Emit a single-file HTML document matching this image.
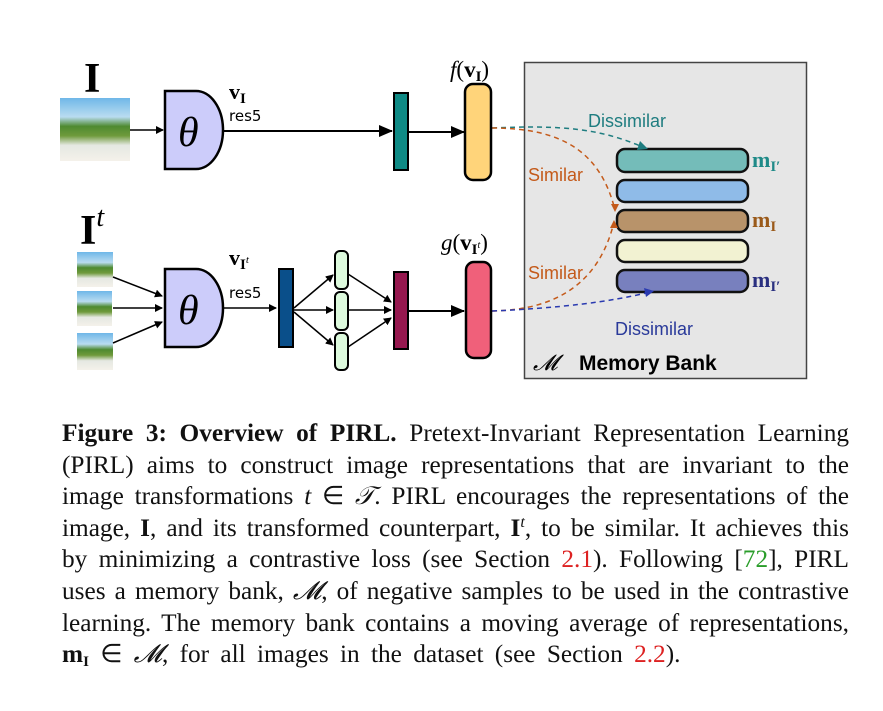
<!DOCTYPE html>
<html><head><meta charset="utf-8"><style>
html,body{margin:0;padding:0;background:#fff;width:883px;height:711px;overflow:hidden}
.cap{position:absolute;left:62px;top:418px;width:787px;font-family:"Liberation Serif",serif;font-size:25.3px;color:#111}
.cap div{height:31.6px;line-height:31.6px;text-align:justify;text-align-last:justify;white-space:nowrap;overflow:visible}
.cap div.l{text-align-last:left;word-spacing:5px}
.cap i{font-style:italic}
.cap sup{font-size:16px;line-height:0;vertical-align:9px}
.cap sub{font-size:15px;line-height:0;vertical-align:-4px}
.g{color:#2a9d2a}.r{color:#d22}
</style></head><body>
<svg width="883" height="411" style="position:absolute;left:0;top:0" font-family="Liberation Sans, sans-serif">
<defs>
<marker id="a" markerWidth="8" markerHeight="8" refX="7" refY="4" orient="auto" markerUnits="userSpaceOnUse"><path d="M0,0 L8,4 L0,8z" fill="#000"/></marker>
<marker id="ab" markerWidth="14" markerHeight="12" refX="13" refY="6" orient="auto" markerUnits="userSpaceOnUse"><path d="M0,0 L14,6 L0,12z" fill="#000"/></marker>
<linearGradient id="img" x1="0" y1="0" x2="0" y2="1"><stop offset="0" stop-color="#6fb7e8"/><stop offset=".3" stop-color="#b9dcf0"/><stop offset=".45" stop-color="#4e8a30"/><stop offset=".6" stop-color="#6f9a3c"/><stop offset=".75" stop-color="#e5e8e2"/><stop offset="1" stop-color="#f4f1ea"/></linearGradient>
</defs>
<rect x="524.5" y="62.5" width="282" height="316" fill="#e6e6e6" stroke="#444" stroke-width="1.5"/>
<text x="588" y="127" fill="#1f7d80" font-size="18">Dissimilar</text>
<text x="528" y="181" fill="#c45a1a" font-size="18">Similar</text>
<text x="528" y="279" fill="#c45a1a" font-size="18">Similar</text>
<text x="615" y="335" fill="#2a3a9a" font-size="18">Dissimilar</text>
<text x="533" y="370" font-size="22" font-family="Liberation Serif, serif" font-style="italic">𝓜</text>
<text x="579" y="370" font-size="21" font-weight="bold">Memory Bank</text>
<rect x="617" y="149" width="131" height="23" rx="8" fill="#74bcb9" stroke="#111" stroke-width="2.5"/>
<rect x="617" y="180" width="131" height="22" rx="8" fill="#8fbbe8" stroke="#111" stroke-width="2.5"/>
<rect x="617" y="210" width="131" height="22" rx="8" fill="#b8936a" stroke="#111" stroke-width="2.5"/>
<rect x="617" y="240" width="131" height="22" rx="8" fill="#f2f2d2" stroke="#111" stroke-width="2.5"/>
<rect x="617" y="270" width="131" height="22" rx="8" fill="#7880be" stroke="#111" stroke-width="2.5"/>
<g font-family="Liberation Serif, serif" font-weight="bold" font-size="22">
<text x="752" y="167" fill="#1f8a88">m<tspan font-size="15" dy="4">I′</tspan></text>
<text x="752" y="227" fill="#9a5a1a">m<tspan font-size="15" dy="4">I</tspan></text>
<text x="752" y="287" fill="#2a3080">m<tspan font-size="15" dy="4">I′</tspan></text>
</g>
<path d="M492,128 C560,125 600,128 645,148" fill="none" stroke="#1f7d80" stroke-width="1.5" stroke-dasharray="5,4"/>
<path d="M640,141 l8,8 l-11,1z" fill="#1f7d80"/>
<path d="M492,128 C560,128 600,150 615,210" fill="none" stroke="#c45a1a" stroke-width="1.5" stroke-dasharray="5,4"/>
<path d="M611,204 l4,8 l4,-8z" fill="#c45a1a"/>
<path d="M492,311 C560,310 600,280 614,222" fill="none" stroke="#c45a1a" stroke-width="1.5" stroke-dasharray="5,4"/>
<path d="M610,228 l4,-8 l4,8z" fill="#c45a1a"/>
<path d="M492,311 C560,308 610,302 650,292" fill="none" stroke="#2a3ab0" stroke-width="1.5" stroke-dasharray="5,4"/>
<path d="M644,288 l10,3 l-8,6z" fill="#2a3ab0"/>
<text x="84" y="92" font-family="Liberation Serif, serif" font-weight="bold" font-size="42">I</text>
<rect x="60" y="98" width="70" height="63" fill="url(#img)"/>
<line x1="130" y1="130" x2="163" y2="130" stroke="#000" stroke-width="1.5" marker-end="url(#a)"/>
<path d="M165,91 H196 A27,39 0 0 1 196,169 H165Z" fill="#ccccfa" stroke="#000" stroke-width="2.5"/>
<text x="178" y="146" font-family="Liberation Serif, serif" font-style="italic" font-size="42">θ</text>
<text x="229" y="99" font-family="Liberation Serif, serif" font-weight="bold" font-size="22">v<tspan font-size="15" dy="4">I</tspan></text>
<text x="229" y="121" font-family="DejaVu Sans, sans-serif" font-size="15">res5</text>
<line x1="223" y1="131" x2="392" y2="131" stroke="#000" stroke-width="2" marker-end="url(#ab)"/>
<rect x="394" y="93" width="14" height="77" fill="#0f8a85" stroke="#000" stroke-width="2"/>
<line x1="408" y1="132" x2="464" y2="132" stroke="#000" stroke-width="2" marker-end="url(#ab)"/>
<rect x="465" y="84" width="26" height="96" rx="8" fill="#ffd47a" stroke="#000" stroke-width="2.5"/>
<text x="450" y="77" font-family="Liberation Serif, serif" font-size="23"><tspan font-style="italic">f</tspan>(<tspan font-weight="bold">v</tspan><tspan font-weight="bold" font-size="15" dy="4">I</tspan><tspan dy="-4">)</tspan></text>
<text x="80" y="244" font-family="Liberation Serif, serif" font-weight="bold" font-size="42">I<tspan font-weight="normal" font-style="italic" font-size="28" dy="-18">t</tspan></text>
<rect x="77" y="252" width="36" height="35" fill="url(#img)"/>
<rect x="77" y="291" width="35" height="35" fill="url(#img)"/>
<rect x="77" y="333" width="36" height="37" fill="url(#img)"/>
<line x1="113" y1="277" x2="162" y2="296" stroke="#000" stroke-width="1.5" marker-end="url(#a)"/>
<line x1="113" y1="308" x2="162" y2="308" stroke="#000" stroke-width="1.5" marker-end="url(#a)"/>
<line x1="113" y1="343" x2="162" y2="322" stroke="#000" stroke-width="1.5" marker-end="url(#a)"/>
<path d="M165,269 H196 A27,39 0 0 1 196,347 H165Z" fill="#ccccfa" stroke="#000" stroke-width="2.5"/>
<text x="178" y="324" font-family="Liberation Serif, serif" font-style="italic" font-size="42">θ</text>
<text x="229" y="265" font-family="Liberation Serif, serif" font-weight="bold" font-size="22">v<tspan font-size="15" dy="4">I</tspan><tspan font-size="11" font-weight="normal" font-style="italic" dy="-6">t</tspan></text>
<text x="229" y="298" font-family="DejaVu Sans, sans-serif" font-size="15">res5</text>
<line x1="223" y1="308" x2="276" y2="308" stroke="#000" stroke-width="1.5" marker-end="url(#a)"/>
<rect x="279" y="269" width="14" height="78" fill="#0a4f8a" stroke="#000" stroke-width="2"/>
<g stroke="#000" stroke-width="1.5" marker-end="url(#a)">
<line x1="294" y1="308" x2="333" y2="275"/><line x1="294" y1="310" x2="333" y2="310"/><line x1="294" y1="312" x2="333" y2="345"/>
<line x1="348" y1="274" x2="391" y2="302"/><line x1="348" y1="310" x2="391" y2="310"/><line x1="348" y1="347" x2="391" y2="318"/>
</g>
<rect x="335" y="251" width="13" height="38" rx="5" fill="#ddfadd" stroke="#000" stroke-width="2"/>
<rect x="335" y="292" width="13" height="38" rx="5" fill="#ddfadd" stroke="#000" stroke-width="2"/>
<rect x="335" y="333" width="13" height="37" rx="5" fill="#ddfadd" stroke="#000" stroke-width="2"/>
<rect x="394" y="272" width="14" height="77" fill="#96184f" stroke="#000" stroke-width="2"/>
<line x1="408" y1="311" x2="464" y2="311" stroke="#000" stroke-width="2" marker-end="url(#ab)"/>
<rect x="466" y="262" width="25" height="96" rx="8" fill="#f0607a" stroke="#000" stroke-width="2.5"/>
<text x="441" y="250" font-family="Liberation Serif, serif" font-size="23"><tspan font-style="italic">g</tspan>(<tspan font-weight="bold">v</tspan><tspan font-weight="bold" font-size="15" dy="4">I</tspan><tspan font-size="10" font-style="italic" dy="-6">t</tspan><tspan dy="2">)</tspan></text>
</svg>
<div class="cap">
<div><b>Figure 3: Overview of PIRL.</b> Pretext-Invariant Representation Learning</div>
<div>(PIRL) aims to construct image representations that are invariant to the</div>
<div>image transformations <i>t</i> ∈ <i>𝒯</i>. PIRL encourages the representations of the</div>
<div>image, <b>I</b>, and its transformed counterpart, <b>I</b><sup><i>t</i></sup>, to be similar. It achieves this</div>
<div>by minimizing a contrastive loss (see Section <span class="r">2.1</span>). Following [<span class="g">72</span>], PIRL</div>
<div>uses a memory bank, <i>𝓜</i>, of negative samples to be used in the contrastive</div>
<div>learning. The memory bank contains a moving average of representations,</div>
<div class="l"><b>m<sub>I</sub></b> ∈ <i>𝓜</i>, for all images in the dataset (see Section <span class="r">2.2</span>).</div>
</div>
</body></html>
